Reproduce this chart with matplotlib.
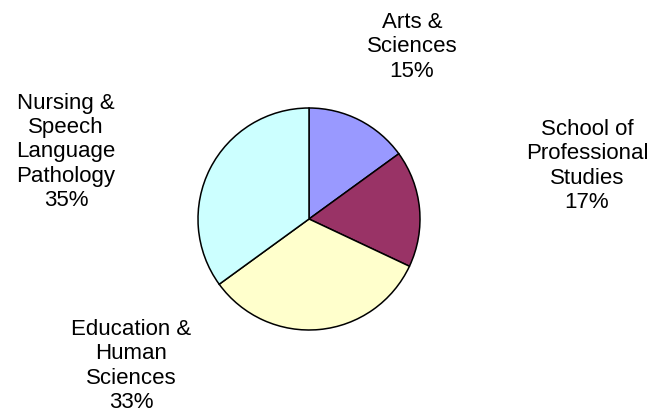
import matplotlib
matplotlib.use("Agg")
import matplotlib.pyplot as plt

categories = ["Arts &\nSciences", "School of\nProfessional\nStudies",
              "Education &\nHuman\nSciences", "Nursing &\nSpeech\nLanguage\nPathology"]
values = [15, 17, 33, 35]
colors = ["#9999FF", "#993366", "#FFFFCC", "#CCFFFF"]
label_pos = [(412, 47), (587, 166), (131, 366), (66, 152)]  # pixel positions (from top)

plt.rcParams['font.family'] = ['Liberation Sans', 'DejaVu Sans']
W, H = 656, 415
fig = plt.figure(figsize=(W / 100, H / 100), dpi=100)
ax = fig.add_axes([0, 0, 1, 1])

cx, cy, r = 309, 219, 111
ax.pie(values, colors=colors, startangle=90, counterclock=False,
       center=(cx, H - cy), radius=r,
       wedgeprops=dict(edgecolor='black', linewidth=1.1))
ax.set_xlim(0, W)
ax.set_ylim(0, H)
ax.set_aspect('equal')
ax.axis('off')

for cat, v, (x, y) in zip(categories, values, label_pos):
    ax.text(x, H - y, f"{cat}\n{v}%", ha='center', va='center', fontsize=16,
            linespacing=1.2)

fig.savefig("out.png", dpi=100)
